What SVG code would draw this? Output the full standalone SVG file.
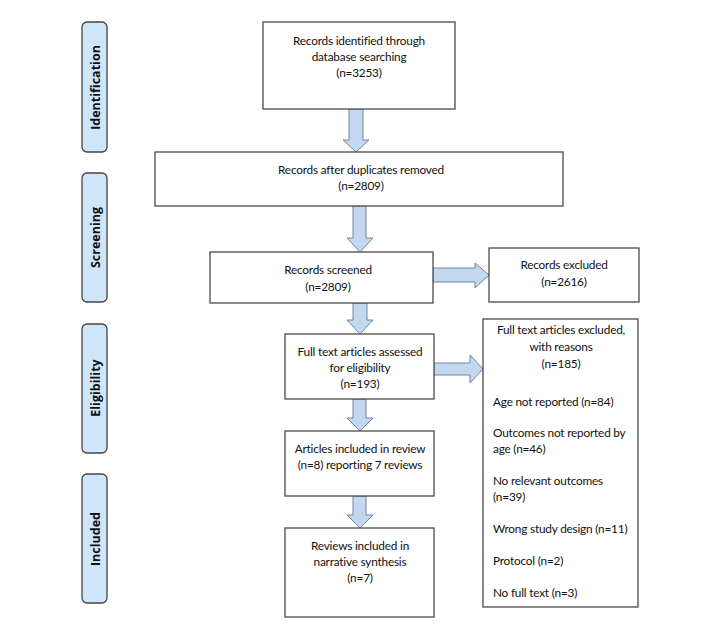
<svg xmlns="http://www.w3.org/2000/svg" width="720" height="639" viewBox="0 0 720 639">
<style>
.box{fill:#fff;stroke:#4a4a4a;stroke-width:1.3}
.phase{fill:#cfe6fa;stroke:#444;stroke-width:1.3}
.arr{fill:#c3d8ee;stroke:#6f86a0;stroke-width:1}
text{font-family:Lato,"Liberation Sans",sans-serif;font-size:11.8px;letter-spacing:-0.2px;fill:#111}
.c{text-anchor:middle}
.ph{font-family:"Open Sans","Liberation Sans",sans-serif;font-weight:bold;font-size:12.5px;letter-spacing:0;text-anchor:middle}
</style>
<rect width="720" height="639" fill="#fff"/>
<g id="phases">
<g id="ph-identification"><rect class="phase" x="82" y="22" width="25" height="130" rx="5"/><text class="ph" transform="translate(100,87.5) rotate(-90)">Identification</text></g>
<g id="ph-screening"><rect class="phase" x="82" y="173" width="25" height="129" rx="5"/><text class="ph" transform="translate(100,237.5) rotate(-90)">Screening</text></g>
<g id="ph-eligibility"><rect class="phase" x="82" y="324" width="25" height="129" rx="5"/><text class="ph" transform="translate(100,388) rotate(-90)">Eligibility</text></g>
<g id="ph-included"><rect class="phase" x="82" y="474" width="25" height="129" rx="5"/><text class="ph" transform="translate(100,539) rotate(-90)">Included</text></g>
</g>
<g id="connectors">
<path class="arr" d="M349,109 H363 V140 H369 L356,152 L343,140 H349 Z"/>
<path class="arr" d="M353,206 H366 V238 H373 L360,252 L347,238 H353 Z"/>
<path class="arr" d="M433,268 H475 V263 L489,275 L475,288 V282 H433 Z"/>
<path class="arr" d="M353,303 H367 V320 H373 L360,334 L347,320 H353 Z"/>
<path class="arr" d="M434,363 H470 V355 L483,369 L470,383 V375 H434 Z"/>
<path class="arr" d="M353,399 H366 V418 H373 L360,431 L347,418 H353 Z"/>
<path class="arr" d="M353,496 H366 V515 H373 L360,528 L347,515 H353 Z"/>
</g>
<g id="n1"><rect class="box" x="263" y="22" width="192" height="87"/><text class="c" x="359" y="45">Records identified through</text><text class="c" x="359" y="61">database searching</text><text class="c" x="359" y="77">(n=3253)</text></g>
<g id="n2"><rect class="box" x="155" y="152" width="408" height="54"/><text class="c" x="361" y="174">Records after duplicates removed</text><text class="c" x="361" y="190">(n=2809)</text></g>
<g id="n3"><rect class="box" x="210" y="252" width="223" height="51"/><text class="c" x="328" y="274">Records screened</text><text class="c" x="328" y="291">(n=2809)</text></g>
<g id="n4"><rect class="box" x="489" y="248" width="150" height="54"/><text class="c" x="564" y="269">Records excluded</text><text class="c" x="564" y="286">(n=2616)</text></g>
<g id="n5"><rect class="box" x="285" y="334" width="149" height="65"/><text class="c" x="360" y="356">Full text articles assessed</text><text class="c" x="360" y="372">for eligibility</text><text class="c" x="360" y="388">(n=193)</text></g>
<g id="n6"><rect class="box" x="483" y="319" width="155" height="288"/>
<text class="c" x="561" y="334">Full text articles excluded,</text><text class="c" x="561" y="351">with reasons</text><text class="c" x="561" y="368">(n=185)</text>
<text x="493" y="406">Age not reported (n=84)</text>
<text x="493" y="437">Outcomes not reported by</text><text x="493" y="453">age (n=46)</text>
<text x="493" y="485">No relevant outcomes</text><text x="493" y="501">(n=39)</text>
<text x="493" y="533">Wrong study design (n=11)</text>
<text x="493" y="565">Protocol (n=2)</text>
<text x="493" y="597">No full text (n=3)</text></g>
<g id="n7"><rect class="box" x="285" y="431" width="149" height="65"/><text class="c" x="360" y="453">Articles included in review</text><text class="c" x="360" y="469">(n=8) reporting 7 reviews</text></g>
<g id="n8"><rect class="box" x="285" y="528" width="149" height="89"/><text class="c" x="360" y="550">Reviews included in</text><text class="c" x="360" y="566">narrative synthesis</text><text class="c" x="360" y="582">(n=7)</text></g>
</svg>
